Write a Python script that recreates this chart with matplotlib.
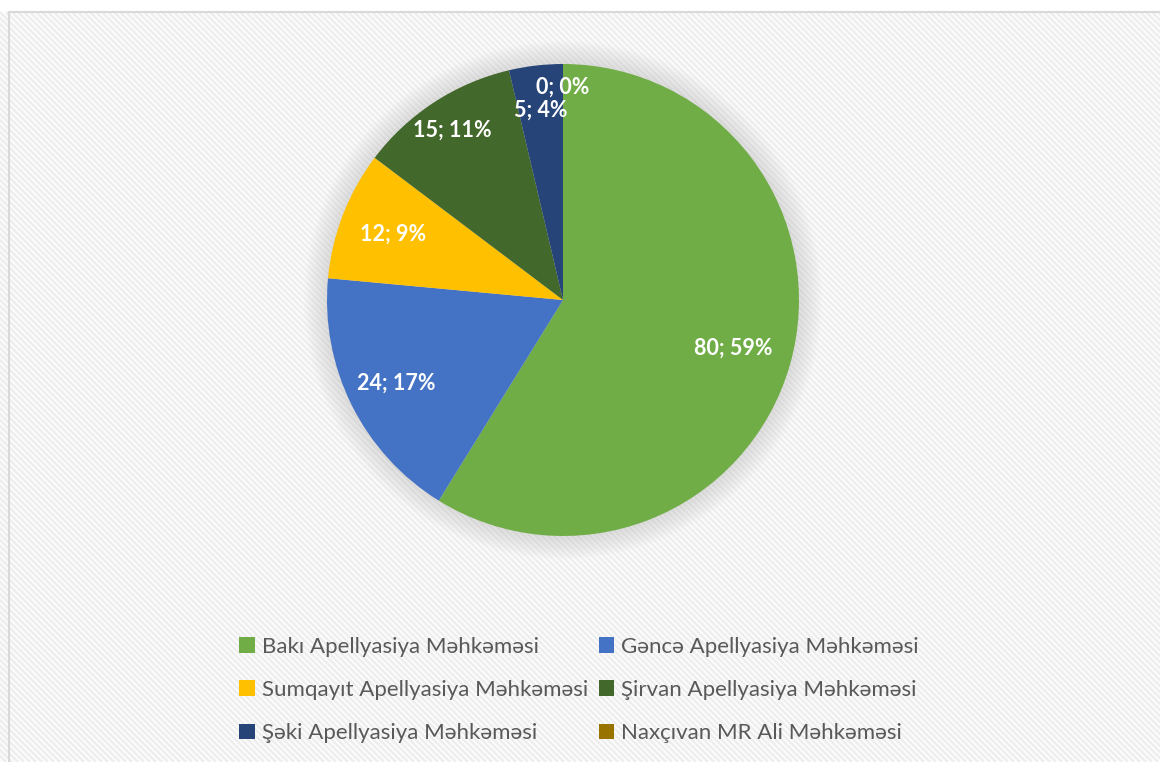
import matplotlib.pyplot as plt
import numpy as np
from matplotlib.collections import LineCollection
from matplotlib.patches import Rectangle, Circle

courts = ['Bakı Apellyasiya Məhkəməsi', 'Gəncə Apellyasiya Məhkəməsi',
          'Sumqayıt Apellyasiya Məhkəməsi', 'Şirvan Apellyasiya Məhkəməsi',
          'Şəki Apellyasiya Məhkəməsi', 'Naxçıvan MR Ali Məhkəməsi']
counts = [80, 24, 12, 15, 5, 0]
percents = [59, 17, 9, 11, 4, 0]
colors = ['#70AD47', '#4472C4', '#FFC000', '#43682B', '#264478', '#997300']

# label distance from centre (fraction of radius), excel "best fit"-ish
label_r = [0.75, 0.79, 0.77, 0.86, 0.81, 0.90]

plt.rcParams['font.family'] = ['Lato', 'DejaVu Sans']

W, H = 1160, 762
fig = plt.figure(figsize=(W / 100, H / 100), dpi=100)
fig.patch.set_facecolor('white')

# background: diagonal stripes + light border
bg = fig.add_axes([0, 0, 1, 1])
bg.set_xlim(0, W)
bg.set_ylim(H, 0)
bg.axis('off')
segs = []
for c in np.arange(-H, W + H, 6):
    segs.append([(c, 12), (c + (H - 12), H)])
bg.add_collection(LineCollection(segs, colors='#eeeeee', linewidths=2.0))
bg.add_patch(Rectangle((0, 0), W, 12, facecolor='white', edgecolor='none'))
bg.add_patch(Rectangle((0, 0), 8.5, H, facecolor='white', edgecolor='none'))
bg.plot([8.5, 8.5, W], [H, 12, 12], color='#d9d9d9', lw=1.5)
bg.add_patch(Rectangle((237, 620), 705, 135, facecolor='white', edgecolor='none', alpha=0.6))

# pie
cx, cy, R = 563, 300, 236
pad = 30
ax = fig.add_axes([(cx - R - pad) / W, (H - cy - R - pad) / H, 2 * (R + pad) / W, 2 * (R + pad) / H])

for i in range(12):
    ax.add_patch(Circle((0, 0.0), 1 + 0.008 * (12 - i), color='#9a9a9a', alpha=0.025, lw=0))

wedges, _ = ax.pie(counts, colors=colors, startangle=90, counterclock=False,
                   radius=1, wedgeprops=dict(linewidth=0))
lim = (R + pad) / R
ax.set_xlim(-lim, lim)
ax.set_ylim(-lim, lim)
ax.set_aspect('auto')
ax.axis('off')

for w, n, p, r in zip(wedges, counts, percents, label_r):
    ang = np.deg2rad((w.theta1 + w.theta2) / 2)
    ax.text(r * np.cos(ang), r * np.sin(ang), f'{n}; {p}%', color='white',
            fontsize=15.5, fontweight='bold', ha='center', va='center')

# legend fills row by row, matplotlib fills by column -> reorder
order = [0, 2, 4, 1, 3, 5]
leg = fig.legend([wedges[i] for i in order], [courts[i] for i in order],
                 loc='center', bbox_to_anchor=(579 / W, 1 - 690 / H),
                 ncol=2, frameon=False, fontsize=16, labelcolor='#595959',
                 handlelength=0.7, handleheight=0.7, handletextpad=0.3,
                 columnspacing=0.5, labelspacing=1.05)

fig.savefig('out.png', dpi=100)
